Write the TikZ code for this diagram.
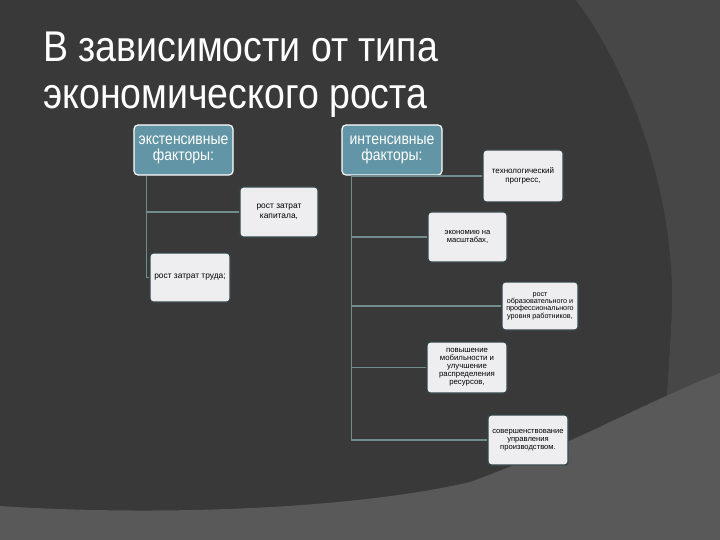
\documentclass[tikz,border=0pt]{standalone}
\usepackage{fontspec}
\setmainfont{Liberation Sans}
\newfontfamily\titlefont[FakeStretch=0.872]{Liberation Sans}
\newfontfamily\boxfont{Liberation Sans}
\usepackage{xcolor}
\usepackage{tikz}
\usetikzlibrary{positioning}

\definecolor{bgdark}{RGB}{58,57,57}
\definecolor{bgmid}{RGB}{71,71,71}
\definecolor{bglight}{RGB}{89,89,89}
\definecolor{headteal}{RGB}{98,150,166}
\definecolor{leaffill}{RGB}{238,238,240}
\definecolor{leafedge}{RGB}{48,68,74}
\definecolor{linegray}{RGB}{112,140,142}

\begin{document}
\begin{tikzpicture}[x=1pt, y=-1pt,
  head/.style={draw=white, line width=1.2pt, rounded corners=4pt, fill=headteal, text=white,
    align=center, minimum width=99pt, minimum height=50pt, inner sep=1pt,
    font=\fontsize{16}{16}\titlefont},
  leaf/.style={draw=leafedge, line width=1.4pt, rounded corners=3pt, fill=leaffill, text=black,
    align=center, minimum width=79pt, minimum height=50pt, inner sep=1pt,
    font=\boxfont\fontsize{8}{8.5}\selectfont},
  branch/.style={draw=linegray, line width=1.5pt}]
% Background
\fill[bgdark] (0,0) rectangle (720,540);
\fill[bgmid] (576,0) .. controls (635,80) and (675,200) .. (672,310)
   .. controls (670,350) and (668,380) .. (665,420) -- (720,420) -- (720,0) -- cycle;
\fill[bglight] (0,506) .. controls (150,516) and (350,510) .. (470,482)
   .. controls (560,450) and (650,400) .. (720,373) -- (720,540) -- (0,540) -- cycle;
\useasboundingbox (0,0) rectangle (720,540);

% Title
\node[anchor=north west, inner sep=0pt, text=white, align=left,
   font=\titlefont\fontsize{43}{47}\selectfont] (title) at (43,32)
   {В зависимости от типа\\экономического роста};

% Two groups of factors
\node[head] (ext) at (183.5,150) {экстенсивные\\факторы:};
\node[head, minimum width=100pt] (int) at (392,150) {интенсивные\\факторы:};

\node[leaf, minimum width=78pt, font=\boxfont\fontsize{8.4}{9.5}\selectfont] (kap) at (279,212) {рост затрат\\капитала,};
\node[leaf, minimum width=80pt, minimum height=49pt, font=\boxfont\fontsize{8.4}{9}\selectfont] (trud) at (190,277.5) {рост затрат труда;};

\node[leaf, minimum width=80pt, minimum height=52pt] (tech) at (523,176) {технологический\\прогресс,};
\node[leaf, font=\boxfont\fontsize{7.6}{8.5}\selectfont] (econ) at (467.5,237) {экономию на\\масштабах,};
\node[leaf, minimum width=76pt, minimum height=48pt, font=\boxfont\fontsize{7.2}{7.3}\selectfont] (obraz) at (540,306)
   {рост\\образовательного и\\профессионального\\уровня работников,};
\node[leaf, minimum width=80pt, minimum height=51pt, font=\boxfont\fontsize{7.8}{8}\selectfont] (mob) at (467,367.5)
   {повышение\\мобильности и\\улучшение\\распределения\\ресурсов,};
\node[leaf, minimum width=80pt, font=\boxfont\fontsize{7.6}{7.8}\selectfont] (uprav) at (528,440) {совершенствование\\управления\\производством.};

% Tree lines
\draw[branch] (ext.south west) ++(13,0) |- (kap.west);
\draw[branch] (ext.south west) ++(13,0) |- (trud.west);
\draw[branch] (int.south west) ++(10,0) |- (tech.west);
\draw[branch] (int.south west) ++(10,0) |- (econ.west);
\draw[branch] (int.south west) ++(10,0) |- (obraz.west);
\draw[branch] (int.south west) ++(10,0) |- (mob.west);
\draw[branch] (int.south west) ++(10,0) |- (uprav.west);
\end{tikzpicture}
\end{document}
